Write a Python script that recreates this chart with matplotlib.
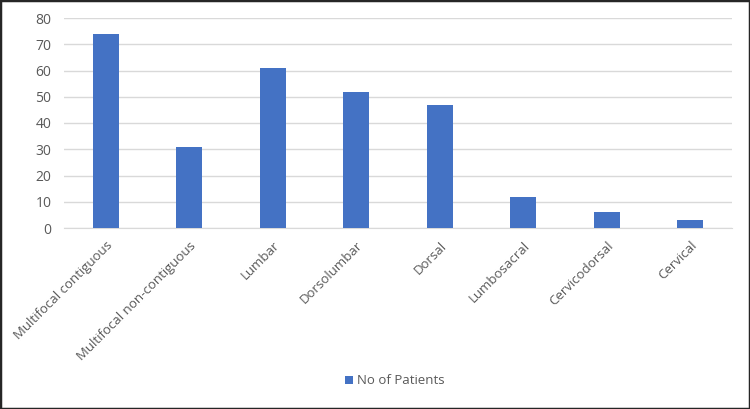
import matplotlib
matplotlib.use('Agg')
import matplotlib.pyplot as plt
from matplotlib.patches import Rectangle

categories = ['Multifocal contiguous', 'Multifocal non-contiguous', 'Lumbar', 'Dorsolumbar',
              'Dorsal', 'Lumbosacral', 'Cervicodorsal', 'Cervical']
patients = [74, 31, 61, 52, 47, 12, 6, 3]
y_ticks = [0, 10, 20, 30, 40, 50, 60, 70, 80]

plt.rcParams['font.family'] = ['Open Sans', 'DejaVu Sans']

fig = plt.figure(figsize=(7.5, 4.09), dpi=100)
ax = fig.add_axes([64 / 750, 1 - 228 / 409, 668 / 750, 210 / 409])

x = range(len(categories))
ax.bar(x, patients, width=0.31, color='#4472C4', label='No of Patients', zorder=3)

ax.set_xlim(-0.5, len(categories) - 0.5)
ax.set_ylim(0, 80)
ax.set_yticks(y_ticks)
ax.set_xticks(list(x))
ax.set_xticklabels(categories, rotation=45, ha='right', rotation_mode='anchor')
ax.tick_params(axis='both', length=0, labelsize=9.5, colors='#595959')
ax.tick_params(axis='x', pad=8)
ax.tick_params(axis='y', pad=9, labelsize=10)

ax.grid(axis='y', color='#d9d9d9', lw=1, zorder=0)
for s in ['top', 'right', 'left']:
    ax.spines[s].set_visible(False)
ax.spines['bottom'].set_color('#d9d9d9')

fig.legend(loc='center', bbox_to_anchor=(395 / 750, 1 - 381 / 409), frameon=False,
           fontsize=9.5, handlelength=0.6, handleheight=0.6, handletextpad=0.3,
           labelcolor='#595959')

# dark frame around the whole chart
fig.patches.append(Rectangle((0, 0), 1, 1, transform=fig.transFigure, fill=False,
                             edgecolor='#262626', lw=2.5))

fig.savefig('out.png', dpi=100)
